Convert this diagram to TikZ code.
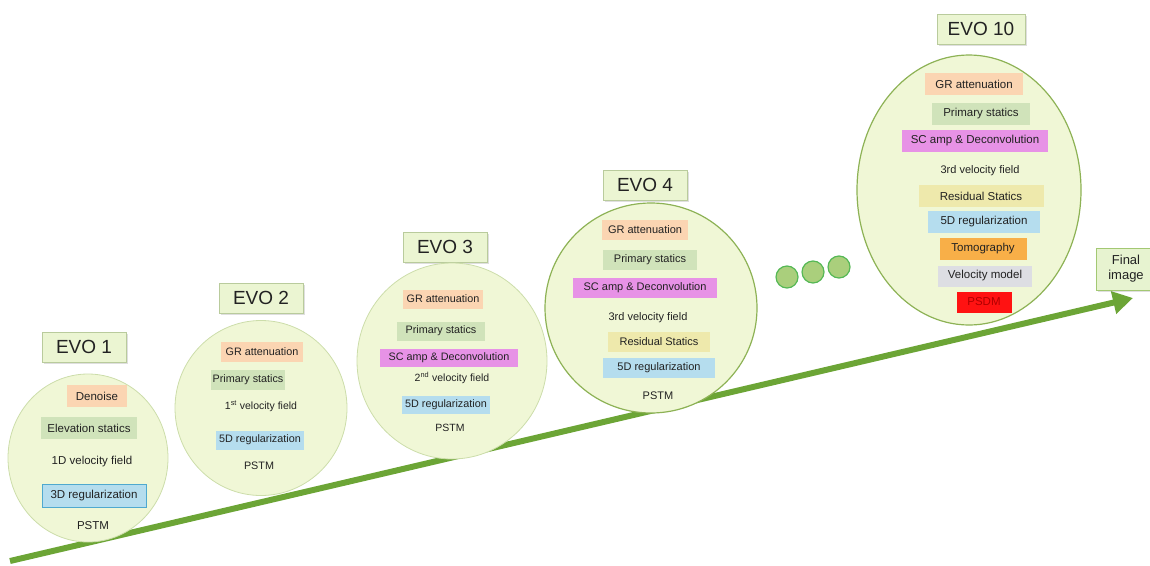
\documentclass[tikz,border=0pt]{standalone}
\usepackage{fontspec}
\setmainfont{Liberation Sans}
\usetikzlibrary{positioning,arrows.meta,shapes.geometric,shadows}

\definecolor{stagefill}{HTML}{F0F7D6}
\definecolor{stageline}{HTML}{CCDDAA}
\definecolor{stagedark}{HTML}{8DB255}
\definecolor{evofill}{HTML}{EBF5D2}
\definecolor{evoline}{HTML}{B9CB9C}
\definecolor{inkgray}{HTML}{222222}
\definecolor{grfill}{HTML}{FBD5B2}
\definecolor{primfill}{HTML}{D0E3BA}
\definecolor{scfill}{HTML}{E792E6}
\definecolor{resfill}{HTML}{EEE9AC}
\definecolor{regfill}{HTML}{B5DDEE}
\definecolor{regline}{HTML}{4FA9CF}
\definecolor{tomofill}{HTML}{F8AF48}
\definecolor{velfill}{HTML}{DDDEE3}
\definecolor{psdmfill}{HTML}{FF1212}
\definecolor{psdmtext}{HTML}{B00000}
\definecolor{dotfill}{HTML}{AACF7C}
\definecolor{dotline}{HTML}{55B855}
\definecolor{arrowgreen}{HTML}{6CA536}
\definecolor{finalfill}{HTML}{E7F3D0}
\definecolor{finalline}{HTML}{A3C873}

\begin{document}
\begin{tikzpicture}[
    x=1pt, y=-1pt,
    evo/.style={
        draw=evoline,
        fill=evofill,
        minimum width=84pt,
        minimum height=30pt,
        text=inkgray,
        font=\fontsize{19}{19}\selectfont,
        drop shadow={opacity=0.25, shadow xshift=1.5pt, shadow yshift=-1.5pt}
    },
    stage/.style={
        ellipse,
        draw=stageline,
        fill=stagefill,
        line width=0.8pt,
        inner sep=0pt
    },
    item/.style={
        rectangle,
        inner sep=0pt,
        minimum height=20pt,
        text=inkgray,
        font=\fontsize{#1}{#1}\selectfont
    },
    item/.default=11,
    dot/.style={
        circle,
        draw=dotline,
        fill=dotfill,
        line width=1.2pt,
        minimum size=22pt,
        inner sep=0pt
    },
    trend/.style={
        -{Triangle[length=20pt,width=22pt]},
        line width=6pt,
        draw=arrowgreen
    }
]
\useasboundingbox (0,0) rectangle (1150,565);

% growth arrow, behind everything
\coordinate (origin) at (10,561);
\coordinate (goal) at (1133,298);
\draw[trend] (origin) -- (goal);

% EVO 1
\node[evo] (lab1) at (84,347) {EVO 1};
\node[stage, minimum width=160pt, minimum height=168pt] (evo1) at (88,458) {};
\node[item=11.5, fill=grfill, minimum width=60pt, minimum height=22pt] (den1) at (97,396) {Denoise};
\node[item=11.5, fill=primfill, minimum width=96pt, minimum height=22pt] (prim1) at (89,428) {Elevation statics};
\node[item=11.5] (vel1) at (92,462) {1D velocity field};
\node[item=11.5, fill=regfill, draw=regline, line width=0.8pt, minimum width=104pt, minimum height=23pt] (reg1) at (94,496) {3D regularization};
\node[item=11.5] (pstm1) at (93,526) {PSTM};

% EVO 2
\node[evo] (lab2) at (261,298) {EVO 2};
\node[stage, minimum width=172pt, minimum height=175pt] (evo2) at (261,408) {};
\node[item=10.8, fill=grfill, minimum width=82pt] (gr2) at (262,352) {GR attenuation};
\node[item=10.8, fill=primfill, minimum width=74pt] (prim2) at (248,380) {Primary statics};
\node[item=10.5] (vel2) at (261,406) {1\textsuperscript{st} velocity field};
\node[item=10.8, fill=regfill, minimum width=88pt, minimum height=19pt] (reg2) at (260,440) {5D regularization};
\node[item=10.8] (pstm2) at (259,466) {PSTM};

% EVO 3
\node[evo] (lab3) at (445,247) {EVO 3};
\node[stage, minimum width=190pt, minimum height=196pt] (evo3) at (452,361) {};
\node[item=10.8, fill=grfill, minimum width=80pt, minimum height=19pt] (gr3) at (443,299) {GR attenuation};
\node[item=10.8, fill=primfill, minimum width=88pt, minimum height=19pt] (prim3) at (441,331) {Primary statics};
\node[item=10.8, fill=scfill, minimum width=138pt, minimum height=18pt] (sc3) at (449,358) {SC amp \& Deconvolution};
\node[item=10.5] (vel3) at (452,378) {2\textsuperscript{nd} velocity field};
\node[item=10.8, fill=regfill, minimum width=88pt, minimum height=18pt] (reg3) at (446,405) {5D regularization};
\node[item=10.5] (pstm3) at (450,428) {PSTM};

% EVO 4
\node[evo] (lab4) at (645,185) {EVO 4};
\node[stage, draw=stagedark, line width=1.2pt, minimum width=212pt, minimum height=210pt] (evo4) at (651,308) {};
\node[item, fill=grfill, minimum width=86pt] (gr4) at (645,230) {GR attenuation};
\node[item, fill=primfill, minimum width=94pt] (prim4) at (650,260) {Primary statics};
\node[item, fill=scfill, minimum width=144pt] (sc4) at (645,288) {SC amp \& Deconvolution};
\node[item] (vel4) at (648,318) {3rd velocity field};
\node[item, fill=resfill, minimum width=102pt] (res4) at (659,342) {Residual Statics};
\node[item, fill=regfill, minimum width=112pt] (reg4) at (659,368) {5D regularization};
\node[item] (pstm4) at (658,396) {PSTM};

% more generations
\node[dot] (dot1) at (787,277) {};
\node[dot] (dot2) at (813,272) {};
\node[dot] (dot3) at (839,267) {};

% EVO 10
\node[evo, minimum width=88pt] (lab10) at (981,29) {EVO 10};
\node[stage, draw=stagedark, line width=1.2pt, minimum width=224pt, minimum height=270pt] (evo10) at (969,190) {};
\node[item=11.5, fill=grfill, minimum width=98pt, minimum height=22pt] (gr10) at (974,84) {GR attenuation};
\node[item=11.5, fill=primfill, minimum width=98pt, minimum height=22pt] (prim10) at (981,114) {Primary statics};
\node[item=11.5, fill=scfill, minimum width=146pt, minimum height=22pt] (sc10) at (975,141) {SC amp \& Deconvolution};
\node[item=11] (vel10) at (980,171) {3rd velocity field};
\node[item=11.5, fill=resfill, minimum width=125pt, minimum height=22pt] (res10) at (981,196) {Residual Statics};
\node[item=11.5, fill=regfill, minimum width=112pt, minimum height=22pt] (reg10) at (984,222) {5D regularization};
\node[item=11.5, fill=tomofill, minimum width=87pt, minimum height=22pt] (tomo10) at (983,249) {Tomography};
\node[item=11.5, fill=velfill, minimum width=94pt, minimum height=21pt] (vm10) at (985,276) {Velocity model};
\node[item=11.5, fill=psdmfill, text=psdmtext, minimum width=55pt, minimum height=21pt] (psdm10) at (984,302) {PSDM};

% end of the road
\node[draw=finalline, fill=finalfill, align=center, text=inkgray,
      minimum width=60pt, minimum height=42pt, inner sep=2pt,
      font=\fontsize{13}{15}\selectfont,
      drop shadow={opacity=0.25, shadow xshift=1.5pt, shadow yshift=-1.5pt}]
      (final) at (1126,269) {Final\\image};

\end{tikzpicture}
\end{document}
